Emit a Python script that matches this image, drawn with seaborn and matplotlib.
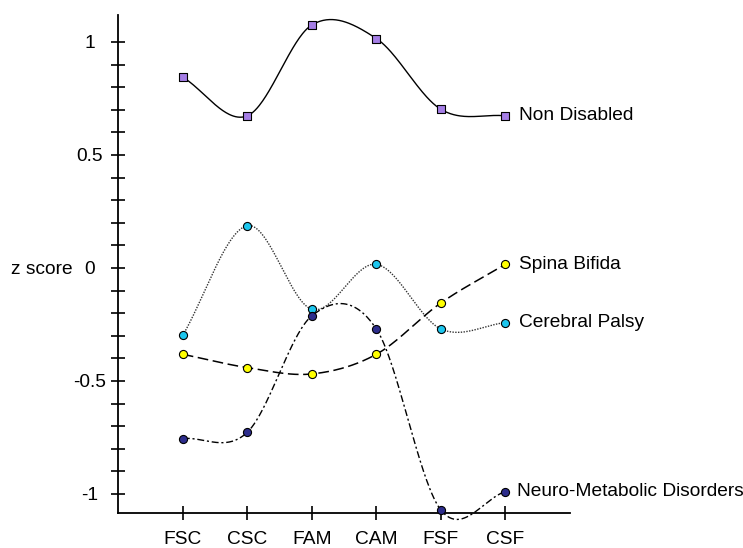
import numpy as np
import seaborn as sns
import matplotlib.pyplot as plt
from matplotlib.ticker import FixedLocator
from matplotlib.transforms import blended_transform_factory

measures = ["FSC", "CSC", "FAM", "CAM", "FSF", "CSF"]
non_disabled = [0.844, 0.673, 1.075, 1.015, 0.702, 0.673]
cerebral_palsy = [-0.298, 0.187, -0.183, 0.016, -0.270, -0.242]
spina_bifida = [-0.382, -0.441, -0.469, -0.382, -0.155, 0.016]
neuro_metabolic = [-0.755, -0.727, -0.212, -0.270, -1.071, -0.990]


def smooth_curve(y, n=300):
    # Catmull-Rom style smoothing through equally spaced points
    y = np.asarray(y, dtype=float)
    k = len(y)
    m = np.empty(k)
    m[1:-1] = (y[2:] - y[:-2]) / 2
    m[0] = y[1] - y[0]
    m[-1] = y[-1] - y[-2]
    xs = np.linspace(0, k - 1, n)
    i = np.clip(np.floor(xs).astype(int), 0, k - 2)
    t = xs - i
    h00 = 2 * t**3 - 3 * t**2 + 1
    h10 = t**3 - 2 * t**2 + t
    h01 = -2 * t**3 + 3 * t**2
    h11 = t**3 - t**2
    ys = h00 * y[i] + h10 * m[i] + h01 * y[i + 1] + h11 * m[i + 1]
    return xs, ys


sns.set_style("ticks")
plt.rcParams["font.family"] = ["Liberation Sans", "DejaVu Sans"]
plt.rcParams["text.color"] = "black"
plt.rcParams["xtick.color"] = "black"
plt.rcParams["ytick.color"] = "black"
fs = 13.8

fig = plt.figure(figsize=(7.43, 5.48), dpi=100)
ax = fig.add_axes([0.1592, 0.0644, 0.767 - 0.1592, 0.9726 - 0.0644])

series = [
    ("Non Disabled", non_disabled, "#a57ee6", "s", "-", "black", 1.0, 10),
    ("Cerebral Palsy", cerebral_palsy, "#1cc6ee", "o", (0, (1, 1)), "#333333", 1.0, 10),
    ("Spina Bifida", spina_bifida, "#ffff00", "o", (0, (7, 3)), "black", 1.1, 10),
    ("Neuro-Metabolic Disorders", neuro_metabolic, "#2d2d8c", "o", (0, (5, 2, 1.5, 2)), "black", 1.0, 8.5),
]

pos = np.arange(len(measures))
for name, vals, col, mk, ls, lc, lw, off in series:
    xs, ys = smooth_curve(vals)
    sns.lineplot(x=xs, y=ys, sort=False, estimator=None, color=lc,
                 linestyle=ls, linewidth=lw, ax=ax, zorder=2, clip_on=False)
    sns.scatterplot(x=pos, y=vals, marker=mk, color=col, edgecolor="black",
                    s=34, linewidth=0.8, ax=ax, zorder=3, clip_on=False)
    ax.annotate(name, (pos[-1], vals[-1]), xytext=(off, 0),
                textcoords="offset points", ha="left", va="center",
                fontsize=fs, color="black")

ax.set_xlim(-1, 6)
ax.set_ylim(-1.083, 1.119)
ax.set_xticks(pos)
ax.set_xticklabels(measures, fontsize=fs)
ax.set_yticks([-1, -0.5, 0, 0.5, 1])
ax.set_yticklabels(["-1", "-0.5", "0", "0.5", "1"], fontsize=fs)
ax.yaxis.set_minor_locator(FixedLocator([v / 10 for v in range(-9, 10) if v % 5 != 0]))

for side in ["top", "right"]:
    ax.spines[side].set_visible(False)
for side in ["left", "bottom"]:
    ax.spines[side].set_linewidth(1.3)
    ax.spines[side].set_color("black")

ax.tick_params(axis="y", which="both", direction="inout", length=10,
               width=1.2, color="black", labelcolor="black", pad=15.7)
ax.tick_params(axis="x", direction="inout", length=9.4, width=1.2,
               color="black", labelcolor="black", pad=8.5)
for lbl in ax.get_yticklabels():
    lbl.set_horizontalalignment("center")

ax.set_xlabel("")
ax.set_ylabel("")
ax.text(-0.101, 0, "z score", fontsize=fs, ha="right", va="center_baseline",
        color="black",
        transform=blended_transform_factory(ax.transAxes, ax.transData))

fig.savefig("out.png", dpi=100)
